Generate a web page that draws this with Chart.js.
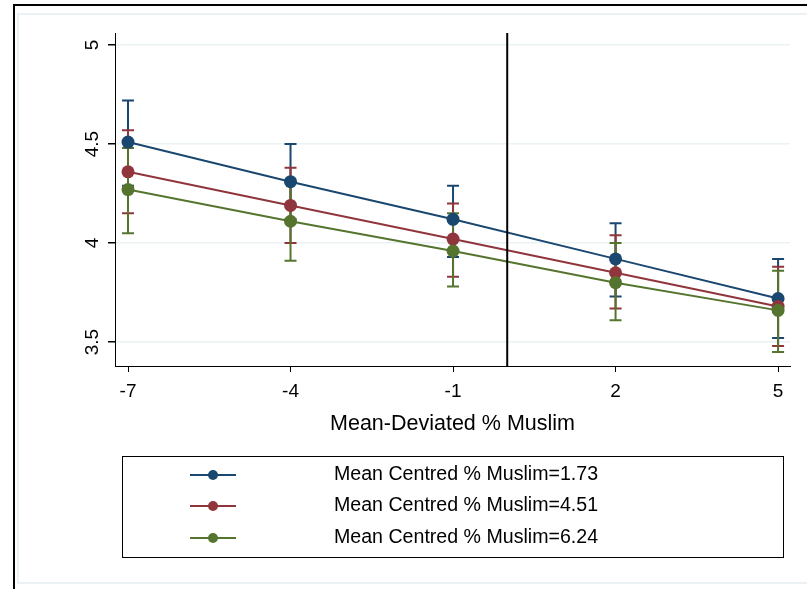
<!DOCTYPE html>
<html>
<head>
<meta charset="utf-8">
<script src="https://cdn.jsdelivr.net/npm/chart.js@4/dist/chart.umd.min.js"></script>
<style>
  html, body { margin: 0; padding: 0; background: #fff; }
</style>
</head>
<body>
<canvas id="myChart" width="807" height="589"></canvas>
<script>
// x positions (mean-deviated % muslim) and tick labels
const xValues = [-7, -4, -1, 2, 5];
const xTicks = [-7, -4, -1, 2, 5];
const yTicks = [3.5, 4, 4.5, 5];
const refLineX = 0;

const seriesNames = [
  "Mean Centred % Muslim=1.73",
  "Mean Centred % Muslim=4.51",
  "Mean Centred % Muslim=6.24",
];
const seriesColors = ["#1a476f", "#90353b", "#55752f"];

// margins + 95% CI
const lowMean  = [4.51, 4.31, 4.12, 3.92, 3.72];
const lowLower = [4.29, 4.12, 3.93, 3.73, 3.52];
const lowUpper = [4.72, 4.50, 4.29, 4.10, 3.92];

const midMean  = [4.36, 4.19, 4.02, 3.85, 3.68];
const midLower = [4.15, 4.00, 3.83, 3.67, 3.48];
const midUpper = [4.57, 4.38, 4.20, 4.04, 3.88];

const highMean  = [4.27, 4.11, 3.96, 3.80, 3.66];
const highLower = [4.05, 3.91, 3.78, 3.61, 3.45];
const highUpper = [4.48, 4.31, 4.15, 4.00, 3.86];

const means = [lowMean, midMean, highMean];
const lowers = [lowLower, midLower, highLower];
const uppers = [lowUpper, midUpper, highUpper];

const FONT = "'Liberation Sans', Arial, sans-serif";

let datasets = means.map((m, k) => ({
  label: seriesNames[k],
  data: xValues.map((x, i) => ({ x: x, y: m[i] })),
  borderColor: seriesColors[k],
  backgroundColor: seriesColors[k],
  pointBackgroundColor: seriesColors[k],
  pointBorderWidth: 0,
  pointRadius: 6.5,
  borderWidth: 2,
  tension: 0,
  order: 3 - k,
}));

// page background + frames
const framePlugin = {
  id: "frame",
  beforeDraw(chart) {
    const c = chart.ctx;
    c.save();
    c.fillStyle = "#fff";
    c.fillRect(0, 0, chart.width, chart.height);
    c.strokeStyle = "#e6eef1";
    c.lineWidth = 1.5;
    c.beginPath();
    c.moveTo(807, 14);
    c.lineTo(18, 14);
    c.lineTo(18, 583);
    c.lineTo(807, 583);
    c.stroke();
    c.restore();
  },
  afterDraw(chart) {
    const c = chart.ctx;
    c.save();
    c.strokeStyle = "#000";
    c.lineWidth = 2;
    c.beginPath();
    c.moveTo(807, 5);
    c.lineTo(14, 5);
    c.lineTo(14, 589);
    c.stroke();
    c.restore();
  },
};

// confidence intervals as capped bars, drawn under the lines
const ciPlugin = {
  id: "ci",
  beforeDatasetsDraw(chart) {
    const c = chart.ctx;
    const xs = chart.scales.x, ys = chart.scales.y;
    c.save();
    c.lineWidth = 2;
    for (let k = 0; k < means.length; k++) {
      c.strokeStyle = seriesColors[k];
      for (let i = 0; i < xValues.length; i++) {
        const px = xs.getPixelForValue(xValues[i]);
        const lo = ys.getPixelForValue(lowers[k][i]);
        const hi = ys.getPixelForValue(uppers[k][i]);
        c.beginPath();
        c.moveTo(px, lo); c.lineTo(px, hi);
        c.moveTo(px - 6, lo); c.lineTo(px + 6, lo);
        c.moveTo(px - 6, hi); c.lineTo(px + 6, hi);
        c.stroke();
      }
    }
    c.restore();
  },
  afterDatasetsDraw(chart) {
    const c = chart.ctx;
    const a = chart.chartArea;
    const px = chart.scales.x.getPixelForValue(refLineX);
    c.save();
    c.strokeStyle = "#000";
    c.lineWidth = 2;
    c.beginPath();
    c.moveTo(px, a.top); c.lineTo(px, a.bottom);
    c.stroke();
    c.restore();
  },
};

// stata style: y labels turned sideways, plus the boxed legend
const labelPlugin = {
  id: "labels",
  afterDraw(chart) {
    const c = chart.ctx;
    const ys = chart.scales.y;
    c.save();
    c.fillStyle = "#000";
    c.font = "19px " + FONT;
    c.textAlign = "center";
    c.textBaseline = "middle";
    yTicks.forEach((v) => {
      c.save();
      c.translate(93, ys.getPixelForValue(v));
      c.rotate(-Math.PI / 2);
      c.fillText(String(v), 0, 0);
      c.restore();
    });

    c.strokeStyle = "#000";
    c.lineWidth = 1;
    c.strokeRect(122.5, 456.5, 661, 101);
    const rows = [475, 506, 538];
    c.textAlign = "left";
    c.font = "19.6px " + FONT;
    seriesNames.forEach((name, k) => {
      const y = rows[k];
      c.strokeStyle = seriesColors[k];
      c.fillStyle = seriesColors[k];
      c.lineWidth = 2;
      c.beginPath();
      c.moveTo(190, y); c.lineTo(236, y);
      c.stroke();
      c.beginPath();
      c.arc(213, y, 5, 0, Math.PI * 2);
      c.fill();
      c.fillStyle = "#000";
      c.fillText(name, 334, y);
    });
    c.restore();
  },
};

let chart = new Chart(document.getElementById("myChart"), {
  type: "line",
  data: { datasets: datasets },
  plugins: [framePlugin, ciPlugin, labelPlugin],
  options: {
    responsive: false,
    animation: false,
    layout: { padding: { left: 0, right: 17, top: 33, bottom: 148 } },
    plugins: {
      legend: { display: false },
      tooltip: { enabled: false },
    },
    scales: {
      x: {
        type: "linear",
        min: -7.24,
        max: 5.22,
        afterBuildTicks: (s) => { s.ticks = xTicks.map((v) => ({ value: v })); },
        afterFit: (s) => { s.height = 75; },
        grid: {
          drawOnChartArea: false,
          drawTicks: true,
          tickLength: 6,
          tickColor: "#000",
        },
        border: { color: "#000", width: 1 },
        ticks: {
          color: "#000",
          font: { family: FONT, size: 19 },
          padding: 8,
          maxRotation: 0,
          autoSkip: false,
          callback: (v) => String(v),
        },
        title: {
          display: true,
          text: "Mean-Deviated % Muslim",
          color: "#000",
          font: { family: FONT, size: 21.5 },
          padding: { top: 6, bottom: 4 },
        },
      },
      y: {
        min: 3.379,
        max: 5.061,
        afterBuildTicks: (s) => { s.ticks = yTicks.map((v) => ({ value: v })); },
        afterFit: (s) => { s.width = 115; },
        grid: {
          color: "#eaf2f3",
          lineWidth: 1.5,
          drawTicks: true,
          tickLength: 7,
          tickColor: "#000",
        },
        border: { color: "#000", width: 1 },
        ticks: { display: false },
      },
    },
  },
});
</script>
</body>
</html>
